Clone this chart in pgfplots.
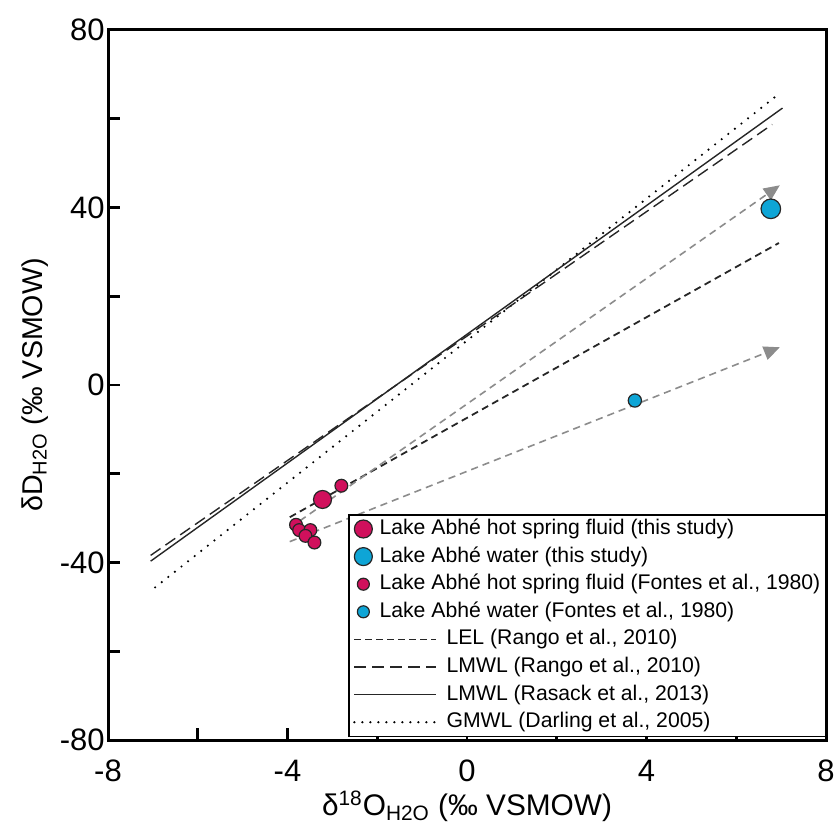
\documentclass[border=0pt]{standalone}
\usepackage{fontspec}
\setmainfont{Liberation Sans}
\usepackage{pgfplots}
\pgfplotsset{compat=1.18}
\usetikzlibrary{arrows.meta}
\definecolor{mag}{RGB}{208,16,92}
\definecolor{cya}{RGB}{14,165,214}
\definecolor{arr}{RGB}{140,140,140}
\pgfplotsset{
  markleg/.style={legend image code/.code={\draw[##1] plot coordinates {(4.5pt,0pt)};}},
  lineleg/.style={legend image code/.code={\draw[##1] (0pt,0pt) -- (41pt,0pt);}},
}
\begin{document}
\begin{tikzpicture}
\begin{axis}[
 scale only axis, width=359pt, height=355pt,
 xmin=-8, xmax=8, ymin=-80, ymax=80,
 xtick={-8,-4,0,4,8}, minor xtick={-6,-2,2,6},
 ytick={-80,-40,0,40,80}, minor ytick={-60,-20,20,60},
 xtick pos=bottom, ytick pos=left, tick align=inside,
 major tick length=6pt, minor tick length=6pt,
 tick style={black, line width=1.3pt},
 axis line style={line width=1.5pt},
 /pgf/number format/assume math mode=true,
 tick label style={font=\fontsize{15.5}{18}\selectfont},
 xticklabel style={yshift=-6.5pt},
 yticklabel style={inner xsep=1.5pt},
 xlabel={δ\textsuperscript{18}O\textsubscript{H2O} (‰ VSMOW)},
 ylabel={δD\textsubscript{H2O} (‰ VSMOW)},
 x label style={at={(axis description cs:0.5,-0.093)}, anchor=center, font=\fontsize{14.9}{18}\selectfont},
 y label style={at={(axis description cs:-0.1017,0.5)}, anchor=center, font=\fontsize{14.3}{18}\selectfont},
 legend cell align=left,
 legend style={at={(rel axis cs:1,0)}, anchor=south east, yshift=1.5pt,
   draw=black, line width=0.7pt, font=\fontsize{10.6}{12}\selectfont,
   row sep=1.7pt, inner xsep=2pt, inner ysep=1pt,
   nodes={inner ysep=0.8pt, inner xsep=0.5pt, text height=8pt, text depth=2.5pt}},
]
% legend entries
\addlegendimage{only marks, mark=*, mark size=4.5pt, mark options={fill=mag, draw=black!85, line width=0.6pt}, markleg}
\addlegendentry{\hspace*{-29.5pt}Lake Abhé hot spring fluid (this study)}
\addlegendimage{only marks, mark=*, mark size=4.5pt, mark options={fill=cya, draw=black!85, line width=0.6pt}, markleg}
\addlegendentry{\hspace*{-29.5pt}Lake Abhé water (this study)}
\addlegendimage{only marks, mark=*, mark size=3pt, mark options={fill=mag, draw=black!85, line width=0.6pt}, markleg}
\addlegendentry{\hspace*{-29.5pt}Lake Abhé hot spring fluid (Fontes et al., 1980)}
\addlegendimage{only marks, mark=*, mark size=3pt, mark options={fill=cya, draw=black!85, line width=0.6pt}, markleg}
\addlegendentry{\hspace*{-29.5pt}Lake Abhé water (Fontes et al., 1980)}
\addlegendimage{black!85, line width=0.8pt, dash pattern=on 3.2pt off 2.3pt, lineleg}
\addlegendentry{\hspace*{4pt}LEL (Rango et al., 2010)}
\addlegendimage{black!85, line width=0.7pt, dash pattern=on 6pt off 3pt, lineleg}
\addlegendentry{\hspace*{4pt}LMWL (Rango et al., 2010)}
\addlegendimage{black!85, line width=0.7pt, lineleg}
\addlegendentry{\hspace*{4pt}LMWL (Rasack et al., 2013)}
\addlegendimage{black, line width=1.2pt, line cap=round, dash pattern=on 0pt off 4pt, lineleg}
\addlegendentry{\hspace*{4pt}GMWL (Darling et al., 2005)}

% lines
\addplot[forget plot, black, line width=1.2pt, line cap=round, dash pattern=on 0pt off 4.2pt] coordinates {(-6.95,-45.6) (6.95,65.6)};
\addplot[forget plot, black!85, line width=0.7pt] coordinates {(-7.05,-39.7) (7.03,62.4)};
\addplot[forget plot, black!85, line width=0.7pt, dash pattern=on 6pt off 3pt] coordinates {(-7.05,-38.4) (6.8,58.7)};
\addplot[forget plot, black!85, line width=0.9pt, dash pattern=on 3.5pt off 2.3pt] coordinates {(-3.95,-29.8) (6.95,32)};
% gray arrows
\addplot[forget plot, arr, line width=0.8pt, dash pattern=on 3.6pt off 2.5pt, -{Triangle[length=8pt,width=7pt]}] coordinates {(-3.95,-32.2) (6.97,45)};
\addplot[forget plot, arr, line width=0.8pt, dash pattern=on 3.6pt off 2.5pt, -{Triangle[length=8pt,width=7pt]}] coordinates {(-3.95,-35.3) (6.97,8.5)};
% points
\addplot[forget plot, only marks, mark=*, mark size=3.2pt, mark options={fill=mag, draw=black!85, line width=0.6pt}] coordinates {
(-3.81,-31.5) (-3.74,-32.7) (-3.49,-32.7) (-3.60,-34.0) (-3.40,-35.5) (-2.80,-22.7)};
\addplot[forget plot, only marks, mark=*, mark size=4.5pt, mark options={fill=mag, draw=black!85, line width=0.6pt}] coordinates {(-3.22,-25.8)};
\addplot[forget plot, only marks, mark=*, mark size=3.3pt, mark options={fill=cya, draw=black!85, line width=0.6pt}] coordinates {(3.74,-3.5)};
\addplot[forget plot, only marks, mark=*, mark size=4.9pt, mark options={fill=cya, draw=black!85, line width=0.6pt}] coordinates {(6.77,39.7)};
\end{axis}
\pgfresetboundingbox
\path[use as bounding box] (-54pt,-45pt) rectangle (365.5pt,370pt);
\end{tikzpicture}
\end{document}
